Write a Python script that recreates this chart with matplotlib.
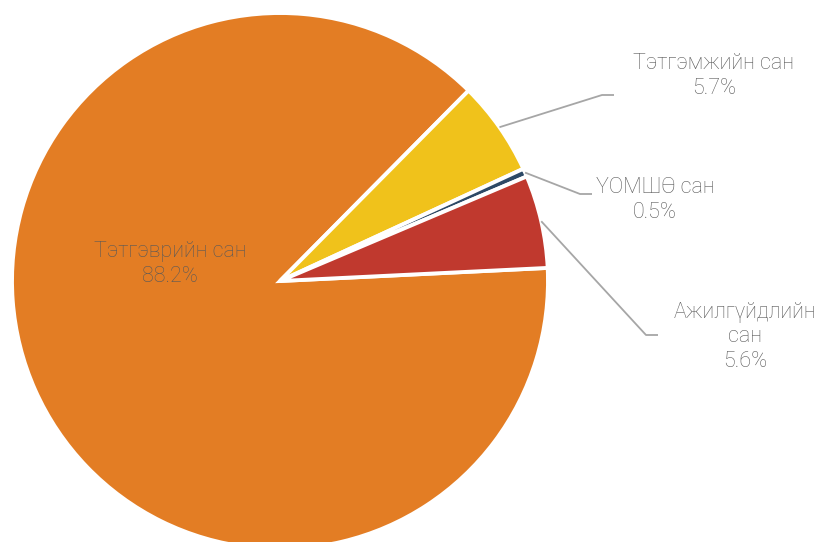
import numpy as np
import matplotlib
matplotlib.use("Agg")
import matplotlib.pyplot as plt

# ---- data ----
labels = ["Тэтгэврийн сан", "Тэтгэмжийн сан", "ҮОМШӨ сан", "Ажилгүйдлийн\nсан"]
values = [88.2, 5.7, 0.5, 5.6]
colors = ["#E37D24", "#F0C21B", "#2D4966", "#C0392E"]

# ---- figure ----
W, H = 820, 542
fig = plt.figure(figsize=(W / 100, H / 100), dpi=100)
ax = fig.add_axes([0, 0, 1, 1])
cx, cy, R = 280, H - 281, 268

wedges, _ = ax.pie(values, colors=colors, startangle=2.8, counterclock=False,
                   center=(cx, cy), radius=R,
                   wedgeprops=dict(edgecolor="white", linewidth=2.8))
ax.set_xlim(0, W)
ax.set_ylim(0, H)
ax.set_aspect("auto")
ax.axis("off")

txt_color = "#595959"
line_color = "#A6A6A6"
font = dict(family=["Roboto", "DejaVu Sans"], fontweight="light", fontsize=15.5,
            color=txt_color)

def lbl(i):
    return f"{labels[i]}\n{values[i]:.1f}%"

# inside label for the largest slice
ax.text(170, H - 264, lbl(0), ha="center", va="center", linespacing=1.2, **font)

# outside labels: (elbow_x, elbow_y_px, text_x, text_y_px, ha)
layout = {
    1: (602, 95, 714, 76, "center"),
    2: (580, 194, 655, 200, "center"),
    3: (646, 335, 745, 337, "center"),
}
for i, (ex, ey, tx, ty, ha) in layout.items():
    w = wedges[i]
    th = np.deg2rad((w.theta1 + w.theta2) / 2)
    sx, sy = cx + R * np.cos(th), cy + R * np.sin(th)
    ax.plot([sx, ex, ex + 12], [sy, H - ey, H - ey], color=line_color,
            lw=1.3, solid_capstyle="butt", zorder=3)
    ax.text(tx, H - ty, lbl(i), ha=ha, va="center", linespacing=1.2,
            multialignment="center", **font)

fig.savefig("out.png", dpi=100, facecolor="white")
